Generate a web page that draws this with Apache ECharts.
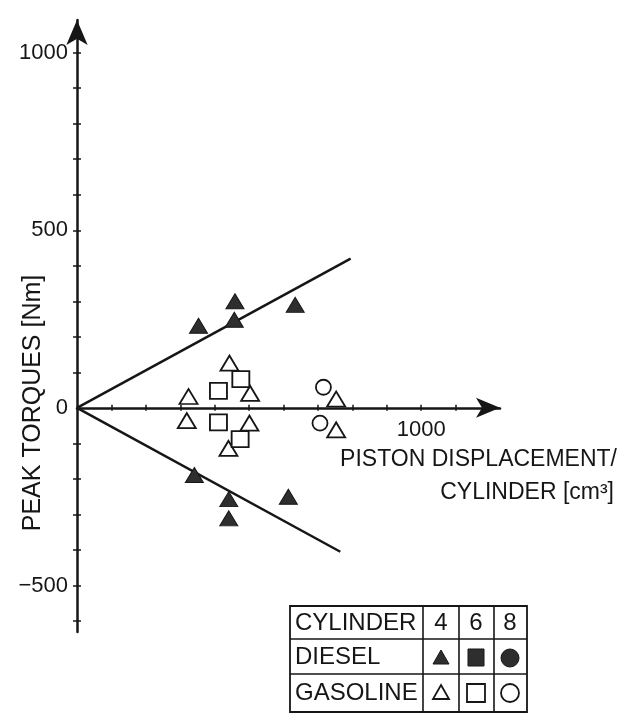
<!DOCTYPE html>
<html>
<head>
<meta charset="utf-8">
<style>
  html, body { margin: 0; padding: 0; background: #fff; }
  #chart { width: 619px; height: 715px; }
</style>
<script src="https://cdn.jsdelivr.net/npm/echarts@6/dist/echarts.min.js"></script>
</head>
<body>
<div id="chart"></div>
<script>
// Peak torque vs. piston displacement per cylinder (upper: positive, lower: negative branch)
const dieselCyl4 = [
  [353, 231], [459, 300], [457, 248], [634, 290],
  [341, -189], [441, -257], [441, -311], [614, -250]
];
const gasolineCyl4 = [
  [324, 32], [319, -36], [443, 126], [503, 41],
  [501, -43], [440, -114], [753, 25], [753, -62]
];
const gasolineCyl6 = [[411, 48], [476, 81], [411, -41], [474, -88]];
const gasolineCyl8 = [[716, 58], [706, -43]];
const upperBound = [[0, 0], [795, 420]];
const lowerBound = [[0, 0], [765, -405]];

const xTicks = [100, 200, 300, 400, 500, 600, 700, 800, 900, 1000, 1100];
const xLabels = [1000];
const yTicks = [-600, -500, -400, -300, -200, -100, 100, 200, 300, 400, 500, 600, 700, 800, 900, 1000];
const yLabels = [-500, 0, 500, 1000];

const INK = '#161616';
const FONT = '"Liberation Sans", Arial, Helvetica, sans-serif';

const chart = echarts.init(document.getElementById('chart'), null, { renderer: 'canvas' });

const tickStyle = { color: INK, width: 1.5 };
const plainNumber = v => (v < 0 ? '\u2212' + Math.abs(v) : String(v));

function textEl(x, y, text, size, align) {
  return {
    type: 'text', x: x, y: y,
    style: {
      text: text, fill: INK, font: size + 'px ' + FONT,
      align: align, verticalAlign: 'middle', textAlign: align, textVerticalAlign: 'middle'
    }
  };
}

const option = {
  backgroundColor: '#ffffff',
  animation: false,
  grid: { left: 77, right: 119, top: 20, bottom: 83, containLabel: false },
  xAxis: [
    {
      type: 'value', min: 0, max: 1229,
      axisLine: {
        show: true, onZero: true, onZeroAxisIndex: 0,
        symbol: ['none', 'arrow'], symbolSize: [15, 24],
        lineStyle: { color: INK, width: 2.5 }
      },
      axisTick: { show: true, length: 3, customValues: xTicks, lineStyle: tickStyle },
      axisLabel: { show: false },
      splitLine: { show: false }
    },
    {
      type: 'value', min: 0, max: 1229, position: 'bottom',
      axisLine: { show: true, onZero: true, onZeroAxisIndex: 0, lineStyle: { color: 'rgba(0,0,0,0)', width: 0 } },
      axisTick: { show: true, inside: true, length: 3, customValues: xTicks, lineStyle: tickStyle },
      axisLabel: { show: false },
      splitLine: { show: false }
    }
  ],
  yAxis: [
    {
      type: 'value', min: -631, max: 1092,
      axisLine: {
        show: true, onZero: true, onZeroAxisIndex: 0,
        symbol: ['none', 'arrow'], symbolSize: [16, 25],
        lineStyle: { color: INK, width: 2.5 }
      },
      axisTick: { show: true, length: 4, customValues: yTicks, lineStyle: tickStyle },
      axisLabel: {
        show: true, customValues: yLabels, margin: 9,
        color: INK, fontSize: 22, fontFamily: FONT,
        formatter: plainNumber
      },
      splitLine: { show: false }
    },
    {
      type: 'value', min: -631, max: 1092, position: 'left',
      axisLine: { show: true, onZero: true, onZeroAxisIndex: 0, lineStyle: { color: 'rgba(0,0,0,0)', width: 0 } },
      axisTick: { show: true, inside: true, length: 4, customValues: yTicks, lineStyle: tickStyle },
      axisLabel: { show: false },
      splitLine: { show: false }
    }
  ],
  series: [
    {
      name: 'upper', type: 'line', data: upperBound, symbol: 'none',
      lineStyle: { color: INK, width: 2.5 }, z: 3
    },
    {
      name: 'lower', type: 'line', data: lowerBound, symbol: 'none',
      lineStyle: { color: INK, width: 2.5 }, z: 3
    },
    {
      name: 'Diesel 4', type: 'scatter', data: dieselCyl4,
      symbol: 'triangle', symbolSize: [18, 15],
      itemStyle: { color: '#2e2e2e', borderColor: INK, borderWidth: 1, opacity: 1 }, z: 4
    },
    {
      name: 'Gasoline 4', type: 'scatter', data: gasolineCyl4,
      symbol: 'triangle', symbolSize: [18, 15],
      itemStyle: { color: '#ffffff', borderColor: INK, borderWidth: 1.8, opacity: 1 }, z: 4
    },
    {
      name: 'Gasoline 6', type: 'scatter', data: gasolineCyl6,
      symbol: 'rect', symbolSize: [17, 16],
      itemStyle: { color: '#ffffff', borderColor: INK, borderWidth: 1.8, opacity: 1 }, z: 4
    },
    {
      name: 'Gasoline 8', type: 'scatter', data: gasolineCyl8,
      symbol: 'circle', symbolSize: 15,
      itemStyle: { color: '#ffffff', borderColor: INK, borderWidth: 1.8, opacity: 1 }, z: 4
    }
  ],
  graphic: [
    // axis titles
    {
      type: 'text', x: 33, y: 403, rotation: Math.PI / 2,
      style: {
        text: 'PEAK TORQUES [Nm]', fill: INK, font: '25px ' + FONT,
        align: 'center', verticalAlign: 'middle', textAlign: 'center', textVerticalAlign: 'middle'
      }
    },
    textEl(617, 460, 'PISTON DISPLACEMENT/', 23, 'right'),
    textEl(614, 493, 'CYLINDER [cm\u00b3]', 23, 'right'),
    // legend table frame
    { type: 'rect', shape: { x: 290, y: 606, width: 237, height: 106 }, style: { fill: 'none', stroke: INK, lineWidth: 1.8 } },
    { type: 'line', shape: { x1: 290, y1: 639, x2: 527, y2: 639 }, style: { stroke: INK, lineWidth: 1.6 } },
    { type: 'line', shape: { x1: 290, y1: 674, x2: 527, y2: 674 }, style: { stroke: INK, lineWidth: 1.6 } },
    { type: 'line', shape: { x1: 423, y1: 606, x2: 423, y2: 712 }, style: { stroke: INK, lineWidth: 1.6 } },
    { type: 'line', shape: { x1: 459, y1: 606, x2: 459, y2: 712 }, style: { stroke: INK, lineWidth: 1.6 } },
    { type: 'line', shape: { x1: 494, y1: 606, x2: 494, y2: 712 }, style: { stroke: INK, lineWidth: 1.6 } },
    // legend table text
    textEl(295, 623, 'CYLINDER', 24, 'left'),
    textEl(295, 657, 'DIESEL', 24, 'left'),
    textEl(295, 693, 'GASOLINE', 24, 'left'),
    textEl(441, 623, '4', 24, 'center'),
    textEl(476, 623, '6', 24, 'center'),
    textEl(510, 623, '8', 24, 'center'),
    // legend symbols: diesel row (filled)
    { type: 'polygon', shape: { points: [[441, 650], [449, 664], [433, 664]] }, style: { fill: '#2e2e2e', stroke: INK, lineWidth: 1 } },
    { type: 'rect', shape: { x: 468, y: 649, width: 16, height: 17 }, style: { fill: '#2e2e2e', stroke: INK, lineWidth: 1 } },
    { type: 'circle', shape: { cx: 510, cy: 658, r: 9 }, style: { fill: '#2e2e2e', stroke: INK, lineWidth: 1 } },
    // legend symbols: gasoline row (open)
    { type: 'polygon', shape: { points: [[441, 685], [449, 699], [433, 699]] }, style: { fill: '#ffffff', stroke: INK, lineWidth: 1.8 } },
    { type: 'rect', shape: { x: 467, y: 684, width: 18, height: 18 }, style: { fill: '#ffffff', stroke: INK, lineWidth: 1.8 } },
    { type: 'circle', shape: { cx: 510, cy: 693, r: 9 }, style: { fill: '#ffffff', stroke: INK, lineWidth: 1.8 } }
  ]
};

chart.setOption(option);

// x-axis tick labels, placed just below the zero line through the axis scale
const xLabelEls = xLabels.map(v => {
  const p = chart.convertToPixel({ xAxisIndex: 0, yAxisIndex: 0 }, [v, 0]);
  return textEl(p[0], p[1] + 22, plainNumber(v), 22, 'center');
});
chart.setOption({ graphic: option.graphic.concat(xLabelEls) });
</script>
</body>
</html>
